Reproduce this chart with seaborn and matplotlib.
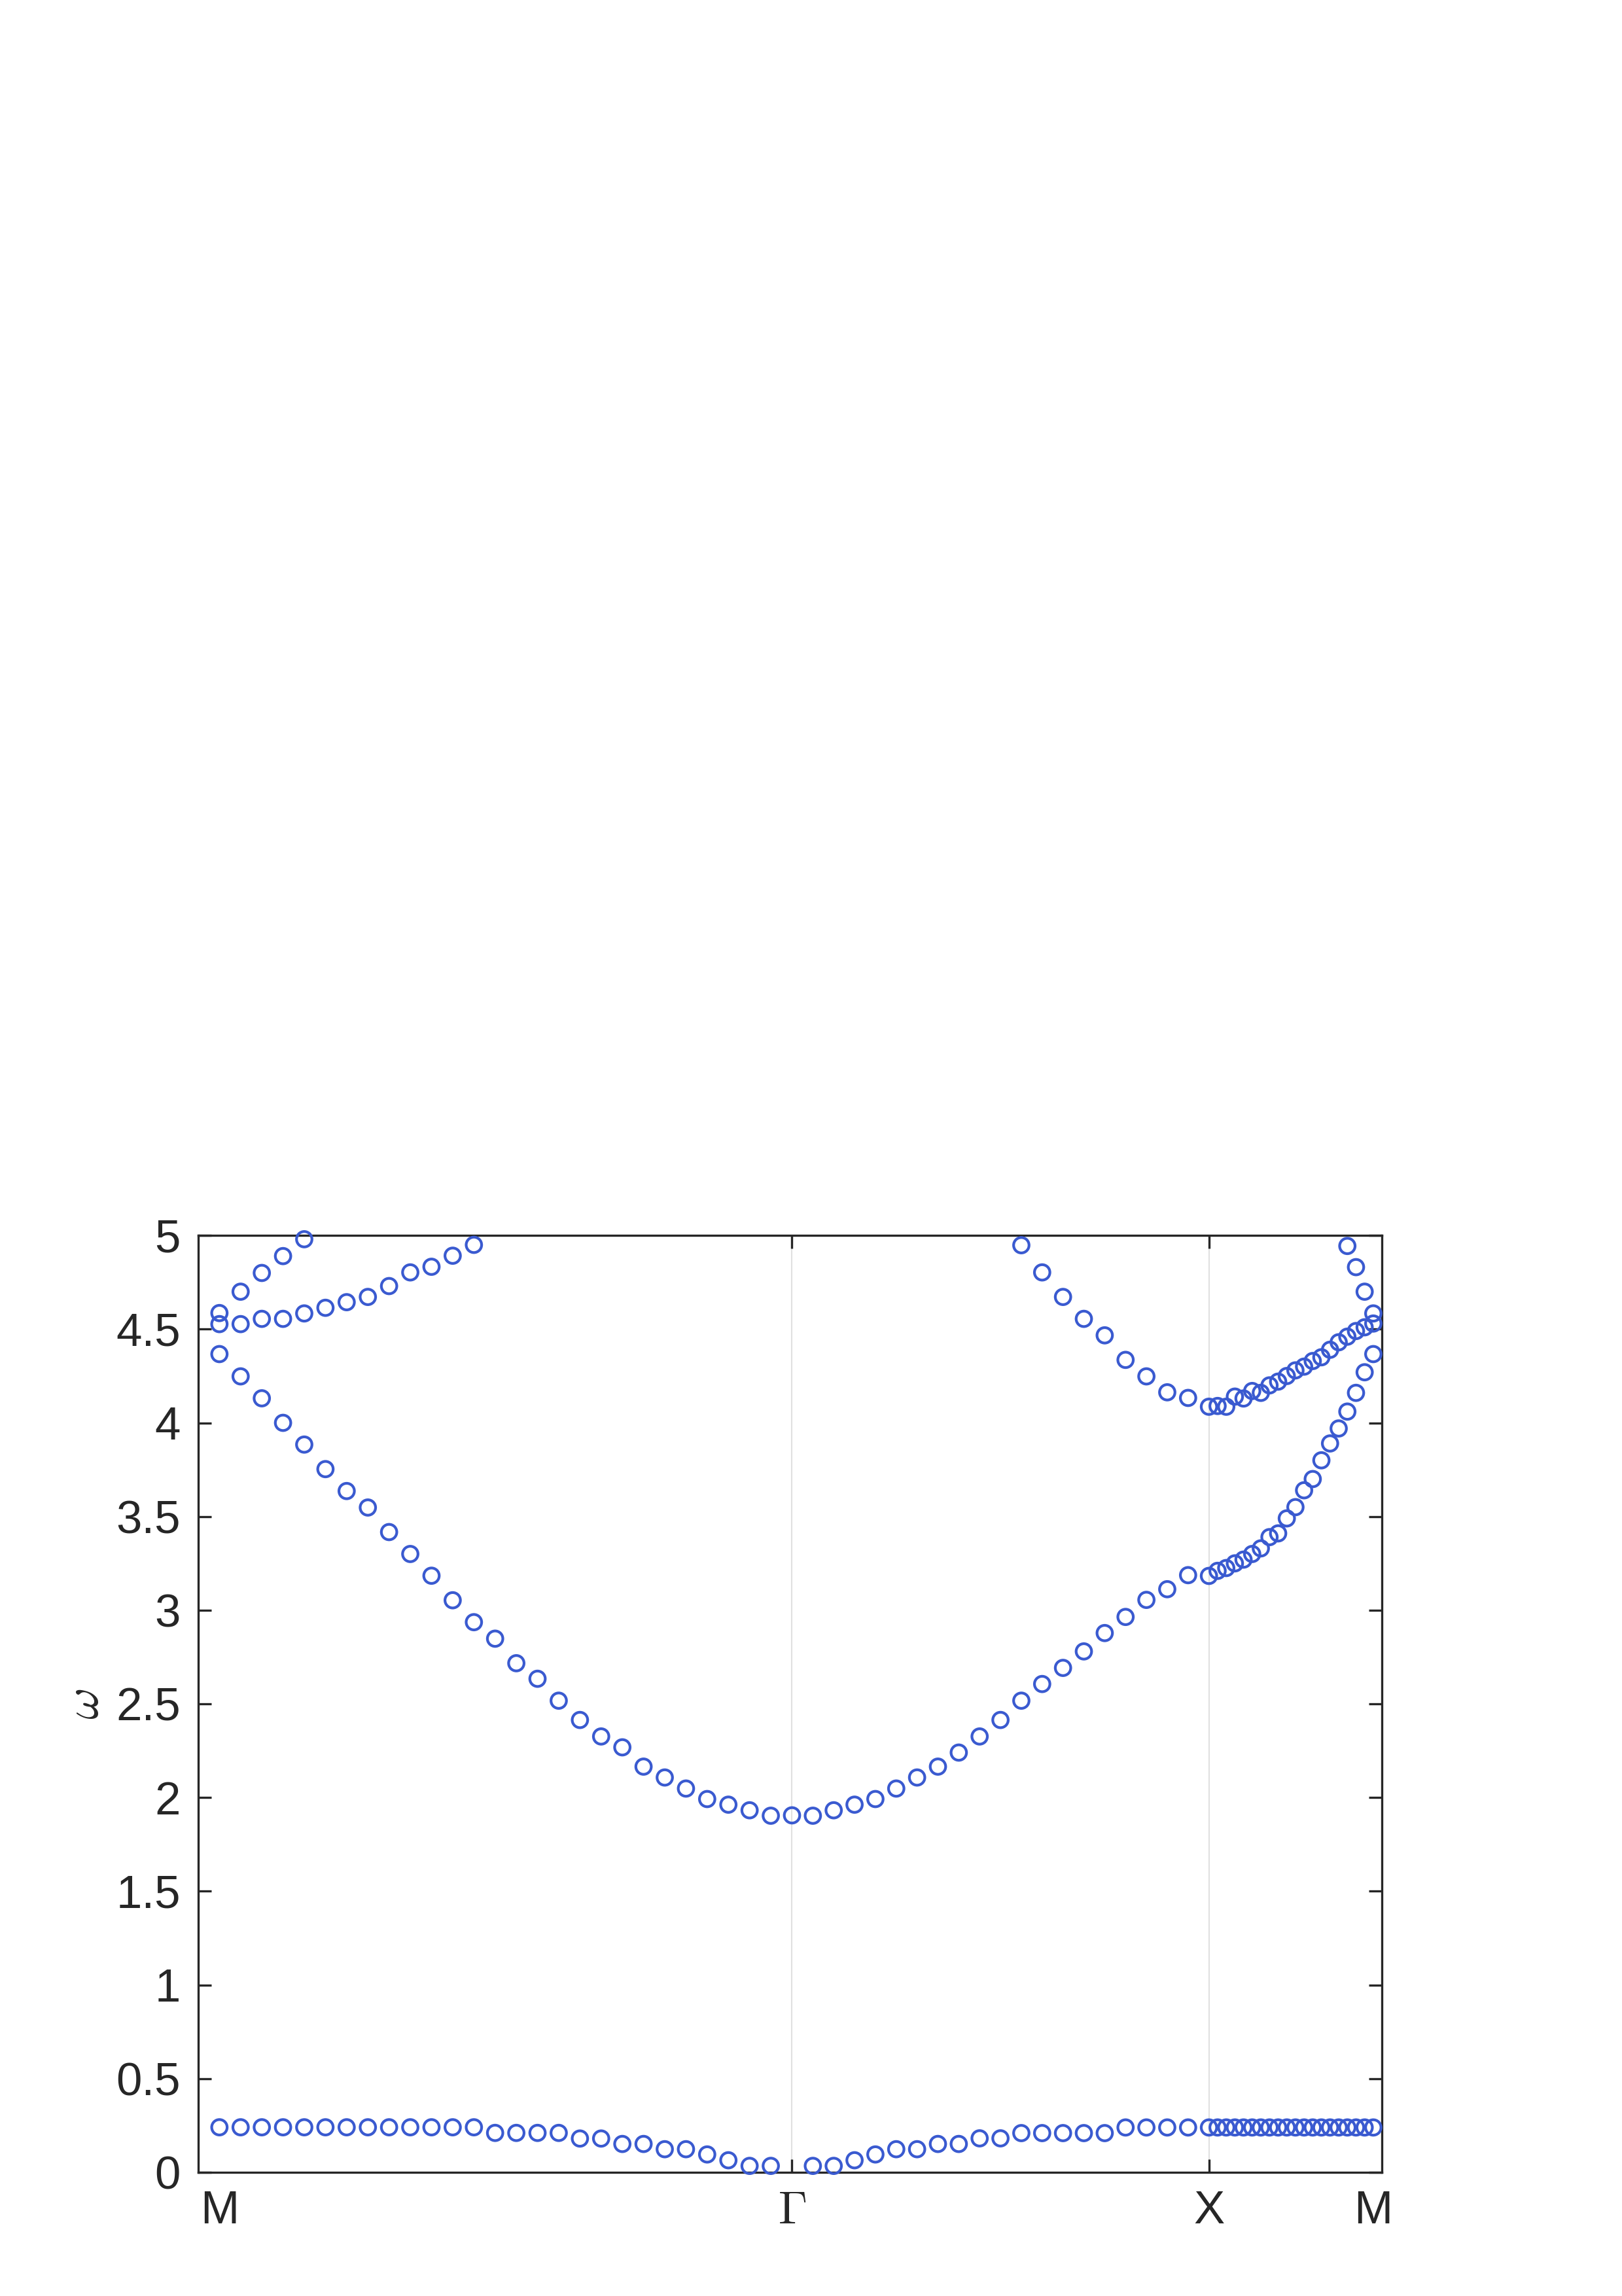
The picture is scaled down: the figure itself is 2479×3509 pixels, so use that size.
import numpy as np
import pandas as pd
import matplotlib.pyplot as plt
import seaborn as sns

nan = np.nan

# k-path M -> Gamma -> X -> M (path coordinate of the high-symmetry points)
k_labels = ["M", r"$\Gamma$", "X", "M"]
k_ticks = [0.0, 27.0, 46.66, 54.41]
n_steps = [27, 20, 19]   # k-points per segment

# frequencies per band, split by segment (nan = outside the plotted window)
# segment M-Gamma: 28 points (M ... Gamma)
band1_MG = [0.24, 0.24, 0.24, 0.24, 0.24, 0.24, 0.24, 0.24, 0.24, 0.24, 0.24, 0.24, 0.24,
            0.21, 0.21, 0.21, 0.21, 0.18, 0.18, 0.151, 0.151, 0.123, 0.123, 0.095, 0.064,
            0.034, 0.034, nan]
band2_MG = [4.367, 4.248, 4.131, 4.0, 3.884, 3.753, 3.636, 3.548, 3.417, 3.30, 3.184, 3.053,
            2.936, 2.848, 2.717, 2.634, 2.517, 2.414, 2.326, 2.268, 2.165, 2.107, 2.048,
            1.992, 1.962, 1.932, 1.903, 1.905]
band3_MG = [4.527, 4.527, 4.555, 4.555, 4.584, 4.614, 4.644, 4.672, 4.730, 4.803, 4.833,
            4.892, 4.95] + [nan] * 15
band4_MG = [4.586, 4.70, 4.80, 4.89, 4.98] + [nan] * 23

# segment Gamma-X: 20 points (after Gamma ... X)
band1_GX = [0.034, 0.034, 0.064, 0.095, 0.123, 0.123, 0.151, 0.151, 0.181, 0.181, 0.209,
            0.209, 0.209, 0.209, 0.209, 0.239, 0.239, 0.239, 0.239, 0.239]
band2_GX = [1.903, 1.932, 1.962, 1.992, 2.048, 2.107, 2.165, 2.24, 2.326, 2.414, 2.517,
            2.606, 2.692, 2.78, 2.878, 2.964, 3.055, 3.112, 3.187, 3.183]
band3_GX = [nan] * 10 + [4.948, 4.803, 4.672, 4.555, 4.467, 4.336, 4.248, 4.163, 4.133, 4.086]
band4_GX = [nan] * 20

# segment X-M: 19 points (after X ... M)
band1_XM = [0.239, 0.239, 0.239, 0.239, 0.239, 0.239, 0.239, 0.239, 0.239, 0.239, 0.239,
            0.239, 0.239, 0.239, 0.239, 0.239, 0.239, 0.239, 0.239]
band2_XM = [3.21, 3.225, 3.25, 3.27, 3.30, 3.33, 3.39, 3.41, 3.49, 3.55, 3.64, 3.70, 3.80,
            3.89, 3.97, 4.06, 4.16, 4.27, 4.367]
band3_XM = [4.09, 4.086, 4.14, 4.13, 4.17, 4.16, 4.20, 4.22, 4.25, 4.28, 4.30, 4.33, 4.35,
            4.39, 4.43, 4.46, 4.49, 4.51, 4.53]
band4_XM = [nan] * 15 + [4.944, 4.831, 4.70, 4.584]

# k grid along the path
k_MG = np.linspace(k_ticks[0], k_ticks[1], n_steps[0] + 1)
k_GX = np.linspace(k_ticks[1], k_ticks[2], n_steps[1] + 1)[1:]
k_XM = np.linspace(k_ticks[2], k_ticks[3], n_steps[2] + 1)[1:]
k_path = np.concatenate([k_MG, k_GX, k_XM])

bands = {
    1: band1_MG + band1_GX + band1_XM,
    2: band2_MG + band2_GX + band2_XM,
    3: band3_MG + band3_GX + band3_XM,
    4: band4_MG + band4_GX + band4_XM,
}
df = pd.concat(
    [pd.DataFrame({"k": k_path, "omega": vals, "band": b}) for b, vals in bands.items()]
).dropna()

# Plot
sns.set_style("ticks")
plt.rcParams["font.family"] = ["Liberation Sans", "DejaVu Sans"]
plt.rcParams["mathtext.fontset"] = "cm"

fig = plt.figure(figsize=(2479 / 300, 3509 / 300), dpi=300)
ax = fig.add_axes([0.1222, 0.0539, 0.7298, 0.4080])

step1 = k_ticks[1] / n_steps[0]
step3 = (k_ticks[3] - k_ticks[2]) / n_steps[2]
for kt in k_ticks[1:3]:
    ax.axvline(kt, color="#e0e0e0", lw=0.5, zorder=0)

sns.scatterplot(data=df, x="k", y="omega", ax=ax, marker="o", s=32,
                facecolors="none", edgecolor="#3a5ad0", linewidth=1.0,
                legend=False, clip_on=False, zorder=3)

ax.set_xlim(k_ticks[0] - step1, k_ticks[3] + step3)
ax.set_ylim(0, 5)
ax.set_xticks(k_ticks)
ax.set_xticklabels(k_labels)
ax.set_yticks(np.arange(0, 5.01, 0.5))
ax.set_yticklabels(["0", "0.5", "1", "1.5", "2", "2.5", "3", "3.5", "4", "4.5", "5"])
ax.set_xlabel("")
ax.set_ylabel(r"$\omega$", fontsize=18, labelpad=3, color="#262626")

ax.tick_params(direction="in", top=True, right=True, length=4.8, width=0.8,
               colors="#262626", labelsize=17, pad=6.5)
for i in (0, 3):
    t = ax.xaxis.get_major_ticks()[i]
    t.tick1line.set_visible(False)
    t.tick2line.set_visible(False)
for sp in ax.spines.values():
    sp.set_visible(True)
    sp.set_linewidth(0.8)
    sp.set_color("#262626")

fig.savefig("out.png", dpi=300, facecolor="white")
